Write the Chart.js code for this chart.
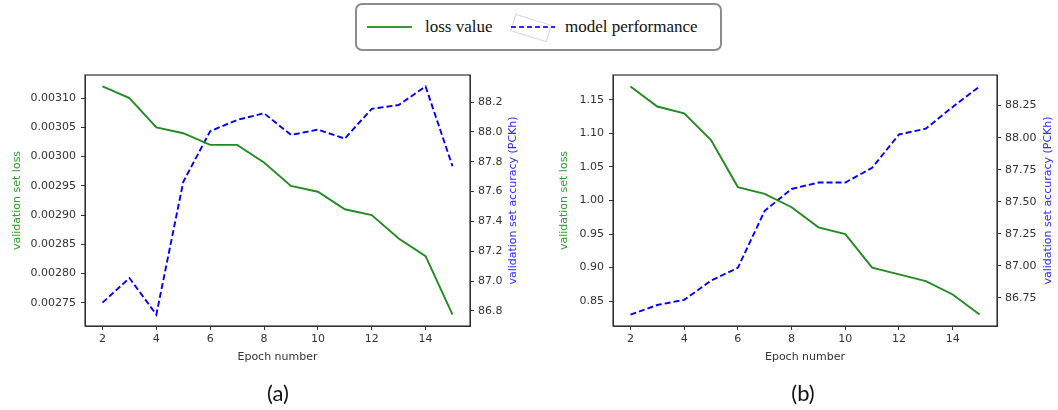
<!DOCTYPE html>
<html>
<head>
<meta charset="utf-8">
<script src="https://cdn.jsdelivr.net/npm/chart.js@4/dist/chart.umd.min.js"></script>
<style>
  html, body { margin:0; padding:0; background:#fff; }
  body { width:1058px; height:410px; position:relative; overflow:hidden; font-family:"DejaVu Sans", sans-serif; }
  .wrap { position:absolute; top:60px; width:529px; height:320px; }
  #legend { position:absolute; left:355px; top:3px; width:363px; height:44px; border:2px solid #8c8c8c; border-radius:7px; box-sizing:content-box; }
  .ltxt { position:absolute; top:12px; font-family:"Liberation Serif", serif; font-size:17px; color:#111; line-height:20px; white-space:nowrap; }
  .cap { position:absolute; top:380px; font-family:"Lato", "Open Sans", sans-serif; font-size:22px; color:#111; transform:translateX(-50%); line-height:26px; }
</style>
</head>
<body>
<div id="legend">
  <div style="position:absolute;left:10px;top:21px;width:45px;height:2px;background:#3d933d;"></div>
  <div class="ltxt" style="left:68px;">loss value</div>
  <div style="position:absolute;left:155px;top:14px;width:36px;height:16px;border:1px solid #d4d4dc;transform:rotate(17deg);"></div>
  <svg style="position:absolute;left:154px;top:18px;" width="44" height="8"><line x1="0" y1="4" x2="44" y2="4" stroke="#2a2aff" stroke-width="2" stroke-dasharray="5,3"/></svg>
  <div class="ltxt" style="left:208px;">model performance</div>
</div>
<div class="wrap" style="left:0px;"><canvas id="cA" width="529" height="320"></canvas></div>
<div class="wrap" style="left:529px;"><canvas id="cB" width="529" height="320"></canvas></div>
<div class="cap" style="left:278px;">(a)</div>
<div class="cap" style="left:803px;">(b)</div>
<script>
const epochs = [2,3,4,5,6,7,8,9,10,11,12,13,14,15];
const lossA = [0.00312,0.00310,0.00305,0.00304,0.00302,0.00302,0.00299,0.00295,0.00294,0.00291,0.00290,0.00286,0.00283,0.00273];
const accA  = [86.855,87.02,86.775,87.665,88.005,88.08,88.125,87.98,88.015,87.955,88.155,88.18,88.305,87.77];
const lossB = [1.17,1.14,1.13,1.09,1.02,1.01,0.99,0.96,0.95,0.90,0.89,0.88,0.86,0.83];
const accB  = [86.62,86.695,86.735,86.885,86.985,87.43,87.60,87.65,87.65,87.765,88.025,88.07,88.24,88.40];
const xTickLabels = ['2','4','6','8','10','12','14'];
const xLabel = 'Epoch number';
const yLeftLabel = 'validation set loss';
const yRightLabel = 'validation set accuracy (PCKh)';

const GREEN = '#228b22', BLUE = '#0000ff', AX = '#333333';

function pts(ys){ return epochs.map((e,i)=>({x:e, y:ys[i]})); }
function pad(arr){ const mn=Math.min(...arr), mx=Math.max(...arr), m=(mx-mn)*0.05; return [mn-m, mx+m]; }

const boxPlugin = {
  id:'box',
  afterDraw(chart, args, opts){
    const {ctx, chartArea:a} = chart;
    ctx.save(); ctx.strokeStyle = AX; ctx.lineWidth = 1.2;
    ctx.strokeRect(a.left, a.top, a.right-a.left, a.bottom-a.top);
    // right axis title, reading bottom-to-top like matplotlib
    ctx.fillStyle = '#2b2bff';
    ctx.font = '11px "DejaVu Sans"';
    ctx.textAlign = 'center'; ctx.textBaseline = 'middle';
    ctx.translate(opts.rx, (a.top + a.bottom)/2);
    ctx.rotate(-Math.PI/2);
    ctx.fillText(yRightLabel, 0, 0);
    ctx.restore();
  }
};

function makeChart(id, loss, acc, cfg){
  const xr = pad(epochs), yl = pad(loss), yr = pad(acc);
  const tickFont = {family:'DejaVu Sans', size:11};
  const grid = {display:true, drawOnChartArea:false, drawTicks:true, tickLength:4, color:AX, tickColor:AX};
  return new Chart(document.getElementById(id), {
    type:'line',
    data:{ datasets:[
      {label:'loss value', data:pts(loss), yAxisID:'y', borderColor:GREEN, borderWidth:1.9, pointRadius:0, fill:false, tension:0},
      {label:'model performance', data:pts(acc), yAxisID:'y1', borderColor:BLUE, borderWidth:1.9, borderDash:[6,3], pointRadius:0, fill:false, tension:0}
    ]},
    options:{
      responsive:false, animation:false,
      layout:{padding:{top:15, left:0, right:0, bottom:0}},
      plugins:{legend:{display:false}, tooltip:{enabled:false}, box:{rx:cfg.rx}},
      scales:{
        x:{type:'linear', min:xr[0], max:xr[1],
           ticks:{stepSize:2, includeBounds:false, autoSkip:false, maxRotation:0, padding:3, color:AX, font:tickFont,
                  callback:(v)=>{const s=String(Math.round(v)); return xTickLabels.includes(s)?s:'';}},
           grid:grid, border:{display:true, color:AX},
           title:{display:true, text:xLabel, color:AX, font:tickFont, padding:{top:0,bottom:16}},
           afterFit:(s)=>{s.height=54;}},
        y:{type:'linear', position:'left', min:yl[0], max:yl[1],
           ticks:{stepSize:cfg.lStep, includeBounds:false, autoSkip:false, padding:5, color:AX, font:tickFont,
                  callback:(v)=>v.toFixed(cfg.lDec)},
           grid:grid, border:{display:true, color:AX},
           title:{display:true, text:yLeftLabel, color:'#2ca02c', font:tickFont, padding:{top:cfg.lTitlePad}},
           afterFit:(s)=>{s.width=cfg.lWidth;}},
        y1:{type:'linear', position:'right', min:yr[0], max:yr[1],
           ticks:{stepSize:cfg.rStep, includeBounds:false, autoSkip:false, padding:4, color:AX, font:tickFont,
                  callback:(v)=>v.toFixed(cfg.rDec)},
           grid:grid, border:{display:true, color:AX},
           title:{display:false},
           afterFit:(s)=>{s.width=cfg.rWidth;}}
      }
    },
    plugins:[boxPlugin]
  });
}

makeChart('cA', lossA, accA, {lStep:0.00005, lDec:5, rStep:0.2, rDec:1, lWidth:85, rWidth:59, lTitlePad:11, rx:513});
makeChart('cB', lossB, accB, {lStep:0.05, lDec:2, rStep:0.25, rDec:2, lWidth:84, rWidth:61, lTitlePad:29, rx:519});
</script>
</body>
</html>
